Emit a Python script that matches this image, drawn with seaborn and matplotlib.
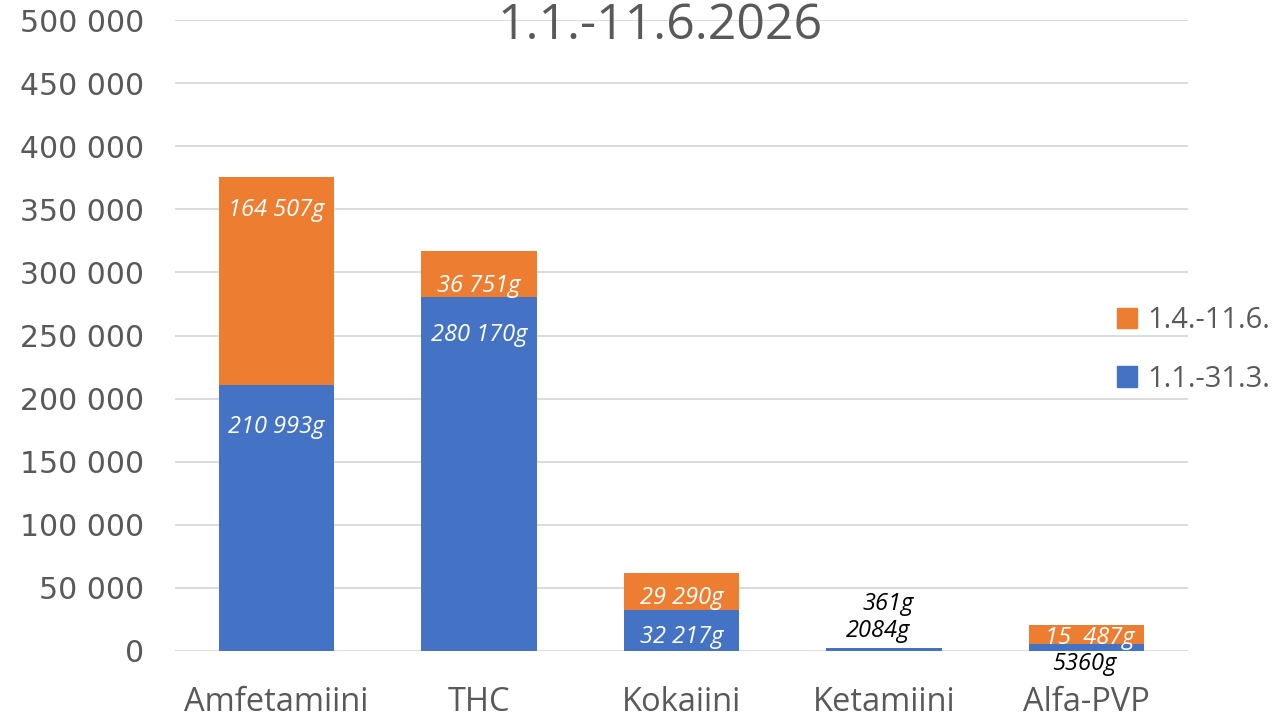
import matplotlib
matplotlib.use("Agg")
import matplotlib.pyplot as plt
from matplotlib.patches import Patch
import seaborn as sns

# data
categories = ["Amfetamiini", "THC", "Kokaiini", "Ketamiini", "Alfa-PVP"]
q1_values = [210993, 280170, 32217, 2084, 5360]      # 1.1.-31.3.
q2_values = [164507, 36751, 29290, 361, 15487]       # 1.4.-11.6.
q1_labels = ["210 993g", "280 170g", "32 217g", "2084g", "5360g"]
q2_labels = ["164 507g", "36 751g", "29 290g", "361g", "15  487g"]
series_names = ["1.4.-11.6.", "1.1.-31.3."]
title = "1.1.-11.6.2026"

blue = "#4472C4"
orange = "#ED7D31"
grey = "#595959"

sns.set_theme(style="white")
plt.rcParams["font.family"] = ["Open Sans", "DejaVu Sans"]

totals = [a + b for a, b in zip(q1_values, q2_values)]

fig = plt.figure(figsize=(12.83, 7.19), dpi=100)
ax = fig.add_axes([175/1283, 68/719, 1013/1283, 631/719])

# stacked bars: total in orange, first period on top of it in blue
sns.barplot(x=categories, y=totals, color=orange, width=0.57, saturation=1,
            linewidth=0, ax=ax, zorder=2)
sns.barplot(x=categories, y=q1_values, color=blue, width=0.57, saturation=1,
            linewidth=0, ax=ax, zorder=3)

ax.set_xlim(-0.5, 4.5)
ax.set_ylim(0, 500000)
ax.set_yticks(range(0, 500001, 50000))
ax.yaxis.set_major_formatter(plt.FuncFormatter(lambda v, _: f"{int(v):,}".replace(",", " ")))
ax.grid(axis="y", color="#D9D9D9", linewidth=1.3, zorder=0)
ax.set_axisbelow(True)
for s in ax.spines.values():
    s.set_visible(False)
ax.tick_params(axis="y", length=0, pad=22, labelsize=21.5, labelcolor=grey)
for t in ax.get_yticklabels():
    t.set_family("DejaVu Sans")
ax.tick_params(axis="x", length=0, pad=25, labelsize=23.5, labelcolor=grey)
ax.set_xlabel("")
ax.set_ylabel("")

# value labels, hand placed like in the original (pixel offsets of the baseline)
# orange label: offset from bar top; blue label: offset from blue top (Alfa-PVP: from zero)
q2_pos = [(0, -39), (0, -41), (0, -31), (4, 38), (3, -19)]
q1_pos = [(0, -48), (0, -44), (0, -33), (-6, 11), (-2, -19)]
q2_col = ["white", "white", "white", "black", "white"]
q1_col = ["white", "white", "white", "black", "black"]
lab_kw = dict(textcoords="offset pixels", ha="center", va="baseline", fontsize=17, style="italic")
for i in range(len(categories)):
    base = 0 if categories[i] == "Alfa-PVP" else q1_values[i]
    ax.annotate(q2_labels[i], (i, totals[i]), xytext=q2_pos[i], color=q2_col[i], **lab_kw)
    ax.annotate(q1_labels[i], (i, base), xytext=q1_pos[i], color=q1_col[i], **lab_kw)

fig.text(660/1283, 1 - 26/719, title, ha="center", va="center", fontsize=36, color=grey)

handles = [Patch(color=orange), Patch(color=blue)]
fig.legend(handles, series_names, loc="center left", bbox_to_anchor=(1117/1283, 1 - 350/719),
           frameon=False, fontsize=21, labelcolor=grey, handlelength=0.7, handleheight=0.7,
           handletextpad=0.35, labelspacing=1.0, borderpad=0, borderaxespad=0)

fig.savefig("out.png", dpi=100)
